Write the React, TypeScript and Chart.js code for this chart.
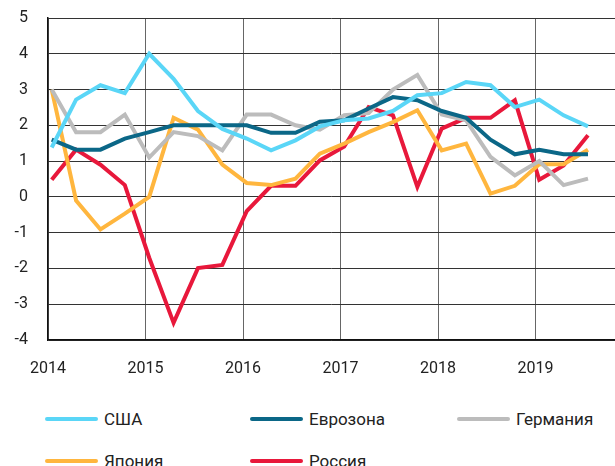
import React, { useEffect, useRef } from "react";
import { Chart, registerables } from "chart.js";

Chart.register(...registerables);

// Quarterly observations, 2014 Q1 … 2019 Q3
const startYear = 2014;
const quarterCount = 23;

const usa = [1.38, 2.72, 3.12, 2.9, 4.0, 3.3, 2.4, 1.9, 1.63, 1.3, 1.58, 1.97, 2.14, 2.19, 2.4, 2.84, 2.9, 3.21, 3.12, 2.51, 2.72, 2.28, 1.97];
const eurozone = [1.6, 1.32, 1.32, 1.63, 1.81, 2.0, 2.0, 2.0, 2.0, 1.79, 1.79, 2.1, 2.14, 2.47, 2.79, 2.7, 2.4, 2.21, 1.6, 1.19, 1.32, 1.19, 1.19];
const germany = [3.0, 1.81, 1.81, 2.3, 1.1, 1.81, 1.7, 1.3, 2.3, 2.3, 2.0, 1.88, 2.28, 2.34, 3.0, 3.41, 2.3, 2.14, 1.12, 0.6, 1.0, 0.33, 0.51];
const japan = [3.0, -0.1, -0.91, -0.47, 0.0, 2.21, 1.88, 0.9, 0.39, 0.33, 0.51, 1.21, 1.49, 1.81, 2.09, 2.42, 1.3, 1.49, 0.09, 0.31, 0.91, 0.91, 1.32];
const russia = [0.48, 1.32, 0.9, 0.33, -1.7, -3.52, -1.99, -1.9, -0.4, 0.31, 0.31, 1.02, 1.41, 2.51, 2.28, 0.28, 1.91, 2.21, 2.21, 2.7, 0.48, 0.88, 1.72];

const seriesNames = ["США", "Еврозона", "Германия", "Япония", "Россия"];
const seriesValues = [usa, eurozone, germany, japan, russia];
const seriesColors = ["#5ad6f7", "#0b6787", "#bcbcbc", "#ffb63e", "#e8183b"];

const yearTicks = [2014, 2015, 2016, 2017, 2018, 2019];
const yMin = -4;
const yMax = 5;
const xMax = 2019.815;
const pointOffset = 0.038;

const FONT = "Roboto, 'Noto Sans', sans-serif";

export default function App() {
  const ref = useRef<HTMLCanvasElement | null>(null);

  useEffect(() => {
    const quarters = Array.from({ length: quarterCount }, (_, i) => startYear + i / 4 + pointOffset);
    const chart = new Chart(ref.current as HTMLCanvasElement, {
      type: "line",
      data: {
        datasets: seriesNames.map((name, k) => ({
          label: name,
          data: seriesValues[k].map((v, i) => ({ x: quarters[i], y: v })),
          borderColor: seriesColors[k],
          backgroundColor: seriesColors[k],
          borderWidth: 4,
          pointRadius: 0,
          tension: 0,
          borderJoinStyle: "miter" as const,
        })),
      },
      options: {
        animation: false,
        responsive: false,
        maintainAspectRatio: false,
        layout: { padding: { top: 18, right: 0, left: 0, bottom: 0 } },
        plugins: { legend: { display: false }, tooltip: { enabled: false } },
        scales: {
          x: {
            type: "linear",
            min: startYear,
            max: xMax,
            afterBuildTicks: (s: any) => {
              s.ticks = yearTicks.map((v) => ({ value: v }));
            },
            afterFit: (s: any) => {
              s.height = 49;
              s.paddingLeft = 0;
              s.paddingRight = 0;
            },
            ticks: {
              padding: 19,
              color: "#222",
              font: { family: FONT, size: 16 },
              maxRotation: 0,
              callback: (v: any) => String(v),
            },
            grid: { color: "#666", lineWidth: 1, drawTicks: false },
            border: { color: "#111", width: 1.5 },
          },
          y: {
            min: yMin,
            max: yMax,
            afterFit: (s: any) => {
              s.width = 48;
              s.paddingTop = 0;
              s.paddingBottom = 0;
            },
            ticks: {
              stepSize: 1,
              padding: 20,
              color: "#222",
              font: { family: FONT, size: 16 },
            },
            grid: { color: "#333", lineWidth: 1, drawTicks: false },
            border: { color: "#111", width: 1.5 },
          },
        },
      },
    });
    return () => chart.destroy();
  }, []);

  return (
    <div style={{ position: "fixed", left: 0, top: 0, width: 615, height: 466, background: "#fff", overflow: "hidden" }}>
      <canvas ref={ref} width={615} height={389} style={{ display: "block" }} />
      <div
        style={{
          position: "absolute",
          left: 45,
          top: 406,
          display: "grid",
          gridTemplateColumns: "205px 207px 160px",
          rowGap: 16,
          fontFamily: FONT,
          fontSize: 17,
          color: "#222",
        }}
      >
        {seriesNames.map((name, k) => (
          <div key={name} style={{ display: "flex", alignItems: "center", height: 26, whiteSpace: "nowrap" }}>
            <span
              style={{
                display: "inline-block",
                flexShrink: 0,
                width: 53,
                height: 4,
                borderRadius: 2,
                background: seriesColors[k],
                marginRight: 6,
              }}
            />
            <span>{name}</span>
          </div>
        ))}
      </div>
    </div>
  );
}
